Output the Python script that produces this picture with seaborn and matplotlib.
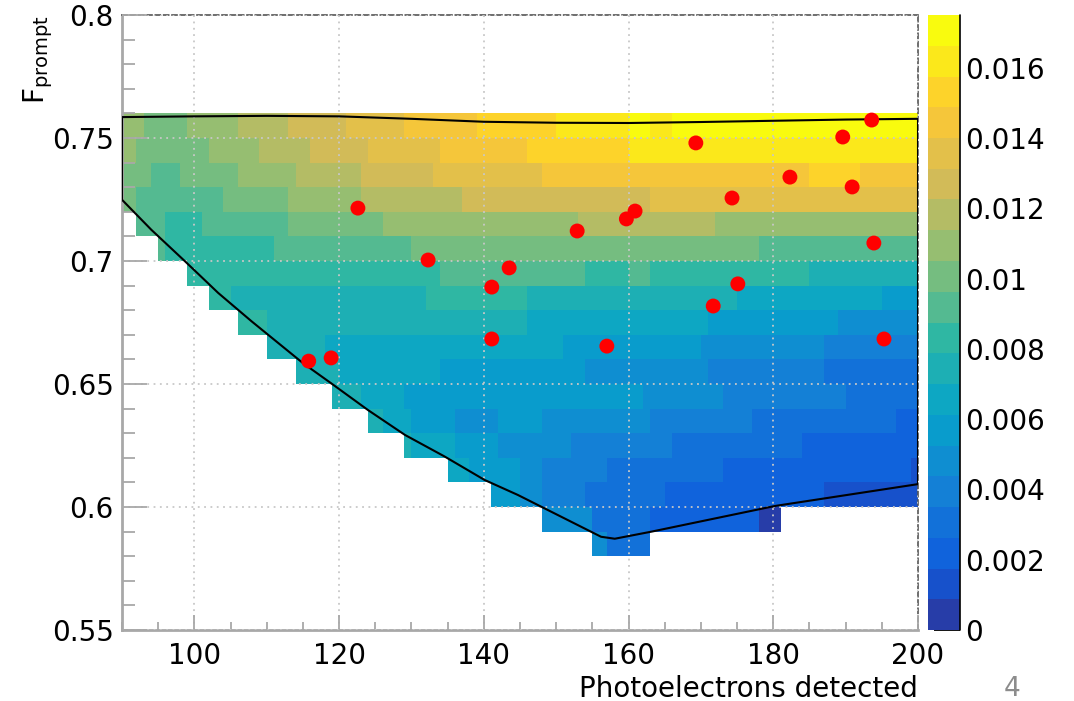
import numpy as np
import matplotlib
matplotlib.use("Agg")
import matplotlib.pyplot as plt
import seaborn as sns
from matplotlib.colors import LinearSegmentedColormap, ListedColormap, BoundaryNorm
from matplotlib.ticker import MultipleLocator, FuncFormatter

sns.set_style("white")
plt.rcParams["font.family"] = ["DejaVu Sans"]
plt.rcParams["mathtext.fontset"] = "dejavusans"
plt.rcParams["text.color"] = "black"

######## DATA ##########
# histogram binning: 1 PE in x, 0.01 in Fprompt
x_lo, x_hi = 90, 200
y_edges = np.round(np.arange(0.58, 0.7601, 0.01), 2)
z_max = 0.0175
n_bands = 20

# each row = list of (x from, x to, colour band 0..19)
row_058 = [(155, 157, 5), (157, 163, 3)]
row_059 = [(148, 155, 5), (155, 163, 3), (163, 178, 2), (178, 181, 0)]
row_060 = [(141, 145, 6), (145, 148, 5), (148, 154, 4), (154, 165, 3), (165, 187, 2), (187, 200, 1)]
row_061 = [(135, 138, 7), (138, 145, 6), (145, 148, 5), (148, 157, 4), (157, 173, 3), (173, 199, 2), (199, 200, 1)]
row_062 = [(129, 130, 8), (130, 136, 7), (136, 142, 6), (142, 152, 5), (152, 166, 4), (166, 184, 3), (184, 200, 2)]
row_063 = [(124, 126, 8), (126, 130, 7), (130, 136, 6), (136, 142, 5), (142, 148, 6), (148, 163, 5),
           (163, 177, 4), (177, 197, 3), (197, 200, 2)]
row_064 = [(119, 123, 8), (123, 129, 7), (129, 162, 6), (162, 173, 5), (173, 190, 4), (190, 200, 3)]
row_065 = [(114, 120, 8), (120, 134, 7), (134, 154, 6), (154, 171, 5), (171, 187, 4), (187, 200, 3)]
row_066 = [(110, 118, 8), (118, 151, 7), (151, 170, 6), (170, 187, 5), (187, 200, 4)]
row_067 = [(106, 110, 9), (110, 146, 8), (146, 171, 7), (171, 189, 6), (189, 200, 5)]
row_068 = [(102, 105, 9), (105, 132, 8), (132, 146, 9), (146, 175, 8), (175, 195, 7), (195, 200, 6)]
row_069 = [(99, 134, 9), (134, 154, 10), (154, 160, 9), (160, 163, 10), (163, 185, 9), (185, 200, 8)]
row_070 = [(95, 96, 10), (96, 111, 9), (111, 130, 10), (130, 178, 11), (178, 200, 10)]
row_071 = [(92, 96, 10), (96, 101, 9), (101, 113, 10), (113, 126, 11), (126, 153, 12), (153, 172, 13), (172, 200, 12)]
row_072 = [(90, 92, 11), (92, 104, 10), (104, 113, 11), (113, 123, 12), (123, 137, 13), (137, 163, 14), (163, 200, 15)]
row_073 = [(90, 94, 11), (94, 98, 10), (98, 106, 11), (106, 114, 12), (114, 123, 13), (123, 133, 14),
           (133, 148, 15), (148, 185, 16), (185, 192, 17), (192, 200, 16)]
row_074 = [(90, 92, 12), (92, 102, 11), (102, 109, 12), (109, 116, 13), (116, 124, 14), (124, 134, 15),
           (134, 146, 16), (146, 160, 17), (160, 200, 18)]
row_075 = [(90, 93, 12), (93, 99, 11), (99, 106, 12), (106, 113, 13), (113, 121, 14), (121, 129, 15),
           (129, 139, 16), (139, 150, 17), (150, 160, 18), (160, 163, 19), (163, 166, 18), (166, 200, 19)]
rows = [row_058, row_059, row_060, row_061, row_062, row_063, row_064, row_065, row_066,
        row_067, row_068, row_069, row_070, row_071, row_072, row_073, row_074, row_075]

# red points (events)
pe_x = [115.8, 118.9, 122.6, 132.3, 141.1, 141.1, 143.5, 152.9, 157.0, 159.7, 160.9,
        169.3, 171.7, 174.3, 175.1, 182.3, 189.6, 190.9, 193.6, 193.9, 195.3]
fp_y = [0.6593, 0.6606, 0.7215, 0.7004, 0.6894, 0.6683, 0.6972, 0.7122, 0.6654, 0.7171, 0.7203,
        0.7480, 0.6817, 0.7256, 0.6907, 0.7341, 0.7504, 0.7301, 0.7573, 0.7073, 0.6683]

# black acceptance boundary (closed)
bound_x = [90, 94.05, 98.7, 103.3, 107.9, 115.0, 118.9, 124.0, 129.1, 134.6, 140.1, 144.7, 151.6, 156.2, 158.1,
           163.2, 180.2, 200, 200, 190, 180, 170, 160, 150, 140, 130, 120, 110, 100, 90, 90]
bound_y = [0.7249, 0.7127, 0.6999, 0.6870, 0.6755, 0.6585, 0.6503, 0.6394, 0.6293, 0.6205, 0.6110, 0.6049,
           0.5947, 0.5879, 0.5871, 0.5900, 0.6004, 0.6093, 0.7578, 0.7575, 0.7570, 0.7565, 0.7561, 0.7562,
           0.7566, 0.7578, 0.7588, 0.7590, 0.7588, 0.7585, 0.7249]

cbar_ticks = [0, 0.002, 0.004, 0.006, 0.008, 0.01, 0.012, 0.014, 0.016]
cbar_labels = ["0", "0.002", "0.004", "0.006", "0.008", "0.01", "0.012", "0.014", "0.016"]
########################

# ROOT kBird palette, sampled the way ROOT picks contour colours
stops = [0.0, 0.125, 0.25, 0.375, 0.5, 0.625, 0.75, 0.875, 1.0]
red = [0.2082, 0.0592, 0.0780, 0.0232, 0.1802, 0.5301, 0.8186, 0.9956, 0.9764]
green = [0.1664, 0.3599, 0.5041, 0.6419, 0.7178, 0.7492, 0.7328, 0.7862, 0.9832]
blue = [0.5293, 0.8684, 0.8385, 0.7914, 0.6425, 0.4662, 0.3499, 0.1968, 0.0539]
bird = LinearSegmentedColormap.from_list("bird", list(zip(stops, zip(red, green, blue))))
band_cols = [bird(int((i + 0.99) * 255 / n_bands) / 254) for i in range(n_bands)]
cmap = ListedColormap(band_cols)
levels = np.linspace(0, z_max, n_bands + 1)
norm = BoundaryNorm(levels, n_bands)

# fill the histogram from the row runs
x_edges = np.arange(x_lo, x_hi + 1)
z = np.full((len(rows), x_hi - x_lo), np.nan)
dz = z_max / n_bands
for j, row in enumerate(rows):
    for a, b, band in row:
        z[j, a - x_lo:b - x_lo] = (band + 0.5) * dz

fig = plt.figure(figsize=(10.74, 7.01), dpi=100)
ax = fig.add_axes([122 / 1074, 71 / 701, 796 / 1074, 615 / 701])
cax = fig.add_axes([928 / 1074, 71 / 701, 32 / 1074, 615 / 701])

mesh = ax.pcolormesh(x_edges, y_edges, np.ma.masked_invalid(z), cmap=cmap, norm=norm, zorder=1)

sns.lineplot(x=bound_x, y=bound_y, sort=False, estimator=None, color="black", lw=1.5, ax=ax, zorder=3)
sns.scatterplot(x=pe_x, y=fp_y, color="#ff0000", s=115, edgecolor="none", ax=ax, zorder=4, legend=False)

ax.set_xlim(90, 200)
ax.set_ylim(0.55, 0.8)
ax.xaxis.set_major_locator(MultipleLocator(20))
ax.xaxis.set_minor_locator(MultipleLocator(5))
ax.yaxis.set_major_locator(MultipleLocator(0.05))
ax.yaxis.set_minor_locator(MultipleLocator(0.01))
ax.yaxis.set_major_formatter(FuncFormatter(lambda v, p: f"{v:g}"))
ax.xaxis.set_major_formatter(FuncFormatter(lambda v, p: f"{v:g}"))
ax.set_xlabel("")
ax.set_ylabel("")

ax.set_axisbelow(False)
ax.grid(True, which="major", linestyle=(0, (1, 2.5)), color="#c8c8c8", lw=1.3)
ax.tick_params(axis="both", which="both", direction="in", color="#a8a8a8", labelcolor="black",
               labelsize=20, top=False, right=False, bottom=True, left=True)
ax.tick_params(axis="y", which="major", length=18, width=1.3, pad=6)
ax.tick_params(axis="y", which="minor", length=9, width=1.3)
ax.tick_params(axis="x", which="major", length=11, width=1.3, pad=9)
ax.tick_params(axis="x", which="minor", length=6, width=1.3)

for side in ["top", "right"]:
    ax.spines[side].set_linestyle((0, (3, 2)))
    ax.spines[side].set_color("#555555")
    ax.spines[side].set_linewidth(1.2)
for side in ["left", "bottom"]:
    ax.spines[side].set_color("#a8a8a8")
    ax.spines[side].set_linewidth(2)

# colour scale
cb = fig.colorbar(mesh, cax=cax, ticks=cbar_ticks)
cb.ax.set_yticklabels(cbar_labels)
cb.outline.set_visible(False)
cb.ax.minorticks_off()
cb.ax.tick_params(direction="in", length=19, width=1.3, colors="black", labelsize=20, pad=4)
cb.ax.plot([1, 1], [0, 1], transform=cb.ax.transAxes, color="black", lw=1.2, clip_on=False)

# titles
fig.text(0.0355, 0.979, r"F$_{\mathrm{prompt}}$", rotation=90, ha="center", va="top", fontsize=20)
fig.text(918 / 1074, 4 / 701, "Photoelectrons detected", ha="right", va="baseline", fontsize=20)
fig.text(1012 / 1074, 5 / 701, "4", ha="center", va="baseline", fontsize=19, color="#8c8c8c")

fig.savefig("out.png", dpi=100)
